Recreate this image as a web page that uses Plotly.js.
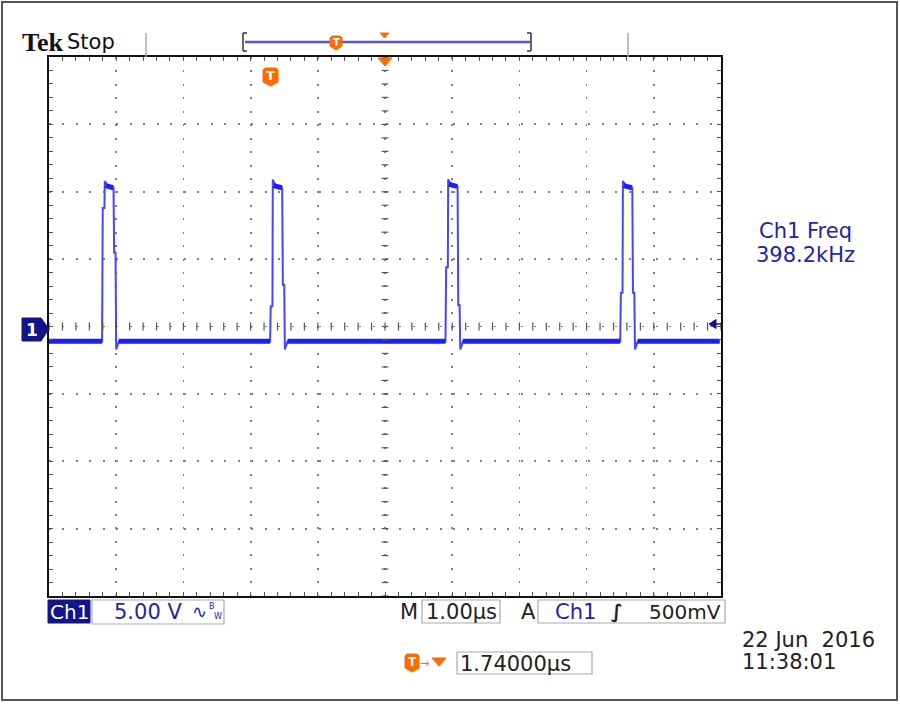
<!DOCTYPE html>
<html>
<head>
<meta charset="utf-8">
<script src="https://cdn.plot.ly/plotly-3.0.1.min.js"></script>
<style>html,body{margin:0;padding:0;background:#fff;}#chart{width:900px;height:704px;}</style>
</head>
<body>
<div id="chart"></div>
<script>
// ---- data (time in µs, voltage in V; 1 µs/div, 5 V/div) ----
const riseT = [-4.20, -1.70, 0.91, 3.51];
const fallT = [-4.03, -1.52, 1.09, 3.69];
const riseStepV = [8.8, 1.5, 4.4, 2.5];
const fallStepV = [5.5, 3.1, 1.6, 2.5];
const peakV = [10.8, 10.9, 10.9, 10.8];
const topV = [10.3, 10.3, 10.4, 10.3];
const baseV = -1.1;
const dipV = -1.7;
const traceStartT = -5.0;
const traceEndT = 4.98;
const freqLabel = ["Ch1 Freq", "398.2kHz"];
const dateLabel = ["22 Jun  2016", "11:38:01"];
const chScale = "5.00 V";
const timeScale = "1.00µs";
const trigLevel = "500mV";
const trigPos = "1.74000µs";

// ---- build waveform from the read values ----
const wx = [traceStartT], wy = [baseV];
for (let i = 0; i < riseT.length; i++) {
  wx.push(riseT[i] - 0.01, riseT[i], riseT[i] + 0.025, riseT[i] + 0.03, riseT[i] + 0.07,
          fallT[i] - 0.01, fallT[i], fallT[i] + 0.02, fallT[i] + 0.03, fallT[i] + 0.07);
  wy.push(baseV, riseStepV[i], riseStepV[i], peakV[i], topV[i] + 0.2,
          topV[i], fallStepV[i], fallStepV[i], dipV, baseV);
}
wx.push(traceEndT); wy.push(baseV);

// thick bands (noisy baseline and pulse tops)
const bx = [], by = [];
let segStart = traceStartT;
for (let i = 0; i < riseT.length; i++) {
  bx.push(segStart, riseT[i] - 0.01, null); by.push(baseV, baseV, null);
  bx.push(riseT[i] + 0.04, fallT[i] - 0.015, null); by.push(topV[i] + 0.15, topV[i], null);
  segStart = fallT[i] + 0.07;
}
bx.push(segStart, traceEndT); by.push(baseV, baseV);

// ---- geometry helpers (pixel -> paper) ----
const L = 49, R = 721, T = 57, B = 596;
const px = v => (v - L) / (R - L);
const py = v => (B - v) / (B - T);

const ORANGE = '#ff6a00';
const NAVY = '#14148a';
const BLUE_TXT = '#2323a8';
const FONT = 'DejaVu Sans';

const shapes = [];
const annotations = [];

function line(x0, y0, x1, y1, color, width) {
  shapes.push({type: 'line', xref: 'paper', yref: 'paper', x0: px(x0), y0: py(y0), x1: px(x1), y1: py(y1),
               line: {color: color, width: width}});
}
function rect(x0, y0, x1, y1, lineColor, fill, width) {
  shapes.push({type: 'rect', xref: 'paper', yref: 'paper', x0: px(x0), y0: py(y0), x1: px(x1), y1: py(y1),
               line: {color: lineColor, width: width}, fillcolor: fill});
}
function path(pts, fill) {
  const d = pts.map((p, k) => (k ? 'L' : 'M') + px(p[0]) + ',' + py(p[1])).join(' ') + ' Z';
  shapes.push({type: 'path', xref: 'paper', yref: 'paper', path: d, fillcolor: fill, line: {color: fill, width: 1}});
}
function text(x, y, s, size, color, anchor, family, extra) {
  annotations.push(Object.assign({xref: 'paper', yref: 'paper', x: px(x), y: py(y), text: s, showarrow: false,
    xanchor: anchor || 'left', yanchor: 'middle', font: {family: family || FONT, size: size, color: color}}, extra || {}));
}
function tMarker(x0, y0, w, h, size) {
  path([[x0 + 2, y0], [x0 + w - 2, y0], [x0 + w, y0 + 2], [x0 + w, y0 + h - 4], [x0 + w / 2, y0 + h],
        [x0, y0 + h - 4], [x0, y0 + 2]], ORANGE);
  text(x0 + w / 2, y0 + h / 2 - 1, '<b>T</b>', size, '#ffffff', 'center');
}

// outer frame
rect(2, 2, 897, 700, '#555555', 'rgba(0,0,0,0)', 2);
// header separators
line(146, 33, 146, 57, '#aaaaaa', 1.5);
line(628, 33, 628, 57, '#aaaaaa', 1.5);
// record-length bar
line(245, 42, 530, 42, '#5555cc', 2.5);
line(243, 33, 243, 51, '#333333', 1.5); line(243, 33, 247, 33, '#333333', 1.5); line(243, 51, 247, 51, '#333333', 1.5);
line(531, 33, 531, 51, '#333333', 1.5); line(531, 33, 527, 33, '#333333', 1.5); line(531, 51, 527, 51, '#333333', 1.5);
tMarker(330, 36, 12, 14, 10);
path([[380, 33], [389, 33], [384.5, 38]], ORANGE);
// trigger position marker on graticule top
path([[378, 58], [392, 58], [385, 66]], ORANGE);
tMarker(263, 68, 15, 18, 13);

// center cross tick marks
for (let k = -25; k <= 25; k++) {
  shapes.push({type: 'line', xref: 'x', yref: 'y', x0: k * 0.2, x1: k * 0.2, y0: -0.3, y1: 0.3,
               line: {color: '#555555', width: 1.2}});
}
for (let k = -20; k <= 20; k++) {
  shapes.push({type: 'line', xref: 'x', yref: 'y', x0: -0.05, x1: 0.05, y0: k, y1: k,
               line: {color: '#555555', width: 1.2}});
}

// Ch1 ground marker
path([[22, 318], [41, 318], [49, 329], [41, 341], [22, 341]], NAVY);
text(32, 329.5, '<b>1</b>', 17, '#ffffff', 'center');
// trigger level marker (right)
path([[709, 324], [716, 319.5], [716, 328.5]], NAVY);
line(716, 324, 721, 324, NAVY, 1.5);

// Tek Stop
text(20, 43, '<b>Tek</b>', 26, '#111111', 'left', 'Liberation Serif');
text(65, 42, 'Stop', 21, '#111111', 'left', FONT);

// right side measurement
text(805, 231, freqLabel[0], 21, BLUE_TXT, 'center');
text(805, 255, freqLabel[1], 21, BLUE_TXT, 'center');

// bottom status row
rect(48, 600, 90, 623, NAVY, NAVY, 1);
text(69, 611.5, 'Ch1', 20, '#ffffff', 'center');
rect(92, 600, 224, 624, '#aaaaaa', 'rgba(0,0,0,0)', 1.2);
text(112, 611.5, chScale, 21, BLUE_TXT, 'left');
text(190, 611, '∿', 18, BLUE_TXT, 'left');
text(207, 606, 'B', 8, BLUE_TXT, 'left');
text(212, 616, 'W', 8, BLUE_TXT, 'left');
text(398, 611.5, 'M', 21, '#222222', 'left');
rect(422, 600, 500, 623, '#aaaaaa', 'rgba(0,0,0,0)', 1.2);
text(424, 611.5, timeScale, 21, '#222222', 'left');
text(519, 611.5, 'A', 21, '#222222', 'left');
rect(538, 600, 725, 623, '#aaaaaa', 'rgba(0,0,0,0)', 1.2);
text(553, 611.5, 'Ch1', 21, BLUE_TXT, 'left');
text(609, 611.5, '<b><i>∫</i></b>', 19, '#222222', 'left');
text(723, 611.5, trigLevel, 20, '#222222', 'right');

// date / time
text(740, 640, dateLabel[0], 21, '#222222', 'left');
text(740, 662, dateLabel[1], 21, '#222222', 'left');

// trigger position readout
tMarker(405, 654, 14, 18, 12);
text(418, 663, '→', 11, ORANGE, 'left');
path([[432, 658], [446, 658], [439, 666]], ORANGE);
rect(457, 652, 592, 674, '#aaaaaa', 'rgba(0,0,0,0)', 1.2);
text(458, 663.5, trigPos, 21, '#222222', 'left');

const data = [
  {x: wx, y: wy, type: 'scatter', mode: 'lines', line: {color: '#4646ff', width: 2}, hoverinfo: 'skip'},
  {x: bx, y: by, type: 'scatter', mode: 'lines', line: {color: '#1e1ef5', width: 5}, hoverinfo: 'skip', connectgaps: false}
];

const axisCommon = {
  showticklabels: false, zeroline: false, showline: true, linecolor: '#111111', linewidth: 2,
  mirror: 'allticks', ticks: 'inside', ticklen: 4, tickcolor: '#555555', tickwidth: 1,
  showgrid: true, gridcolor: '#808080', gridwidth: 1.8, fixedrange: true,
  minor: {ticks: 'inside', ticklen: 4, tickcolor: '#555555', tickwidth: 1, showgrid: false}
};

const layout = {
  width: 900, height: 704,
  margin: {l: L, r: 900 - R, t: T, b: 704 - B, pad: 0},
  paper_bgcolor: '#ffffff', plot_bgcolor: '#ffffff',
  showlegend: false,
  xaxis: Object.assign({}, axisCommon, {range: [-5, 5], tick0: 0, dtick: 1, griddash: '2px,11.44px',
    minor: Object.assign({}, axisCommon.minor, {dtick: 0.2})}),
  yaxis: Object.assign({}, axisCommon, {range: [-20, 20], tick0: 0, dtick: 5, griddash: '2px,11.48px',
    minor: Object.assign({}, axisCommon.minor, {dtick: 1})}),
  shapes: shapes,
  annotations: annotations
};

Plotly.newPlot('chart', data, layout, {staticPlot: true, displayModeBar: false});
</script>
</body>
</html>
